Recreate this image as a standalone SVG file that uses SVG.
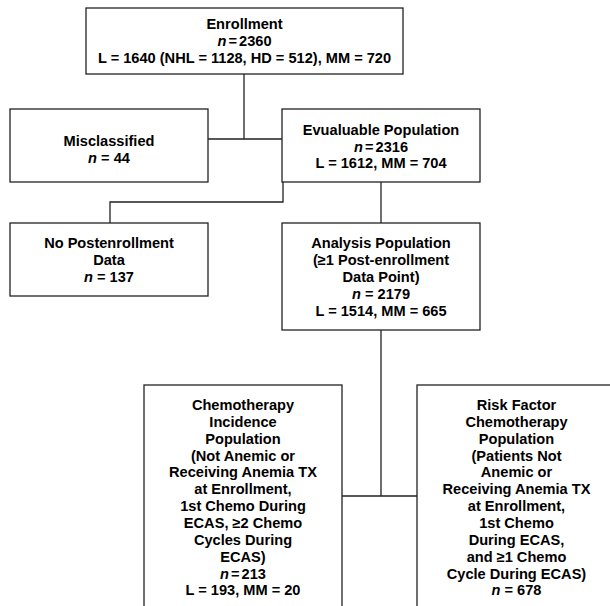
<svg xmlns="http://www.w3.org/2000/svg" width="610" height="606" viewBox="0 0 610 606">
<style>
.box{fill:#fff;stroke:#222;stroke-width:1.3}
.con{fill:none;stroke:#222;stroke-width:1.3}
text{font-family:"Liberation Sans",Arial,Helvetica,sans-serif;font-weight:bold;font-size:14.6px;fill:#000;text-anchor:middle}
.i{font-style:italic}
.t{word-spacing:-2px}
</style>
<rect width="610" height="606" fill="#fff"/>
<g id="connectors">
<path class="con" d="M244,74 V139 M208,139 H282"/>
<path class="con" d="M283,182 V202 H110 V223"/>
<path class="con" d="M381,182 V223"/>
<path class="con" d="M381,330 V496 M342,496 H417"/>
</g>
<g id="enrollment">
<rect class="box" x="86" y="8" width="317" height="66"/>
<text x="244.5" y="29">Enrollment</text>
<text x="244.5" y="46" class="t"><tspan class="i">n</tspan> = 2360</text>
<text x="244.5" y="63">L = 1640 (NHL = 1128, HD = 512), MM = 720</text>
</g>
<g id="misclassified">
<rect class="box" x="10" y="109" width="198" height="73"/>
<text x="109" y="145.5">Misclassified</text>
<text x="109" y="163"><tspan class="i">n</tspan> = 44</text>
</g>
<g id="evaluable">
<rect class="box" x="282" y="109" width="198" height="73"/>
<text x="381" y="134.5">Evualuable Population</text>
<text x="381" y="151.5" class="t"><tspan class="i">n</tspan> = 2316</text>
<text x="381" y="168">L = 1612, MM = 704</text>
</g>
<g id="nopost">
<rect class="box" x="10" y="223" width="198" height="73"/>
<text x="109" y="248">No Postenrollment</text>
<text x="109" y="265">Data</text>
<text x="109" y="282"><tspan class="i">n</tspan> = 137</text>
</g>
<g id="analysis">
<rect class="box" x="282" y="223" width="198" height="107"/>
<text x="381" y="248">Analysis Population</text>
<text x="381" y="265">(≥1 Post-enrollment</text>
<text x="381" y="282">Data Point)</text>
<text x="381" y="299"><tspan class="i">n</tspan> = 2179</text>
<text x="381" y="315.5">L = 1514, MM = 665</text>
</g>
<g id="chemo">
<rect class="box" x="144" y="385" width="198" height="240"/>
<text x="243" y="410">Chemotherapy</text>
<text x="243" y="426.9">Incidence</text>
<text x="243" y="443.7">Population</text>
<text x="243" y="460.6">(Not Anemic or</text>
<text x="243" y="477.4">Receiving Anemia TX</text>
<text x="243" y="494.3">at Enrollment,</text>
<text x="243" y="511.1">1st Chemo During</text>
<text x="243" y="528">ECAS, ≥2 Chemo</text>
<text x="243" y="544.8">Cycles During</text>
<text x="243" y="561.7">ECAS)</text>
<text x="243" y="578.5" class="t"><tspan class="i">n</tspan> = 213</text>
<text x="243" y="595.4">L = 193, MM = 20</text>
</g>
<g id="riskfactor">
<rect class="box" x="417" y="385" width="198" height="240"/>
<text x="516.5" y="410">Risk Factor</text>
<text x="516.5" y="426.9">Chemotherapy</text>
<text x="516.5" y="443.7">Population</text>
<text x="516.5" y="460.6">(Patients Not</text>
<text x="516.5" y="477.4">Anemic or</text>
<text x="516.5" y="494.3">Receiving Anemia TX</text>
<text x="516.5" y="511.1">at Enrollment,</text>
<text x="516.5" y="528">1st Chemo</text>
<text x="516.5" y="544.8">During ECAS,</text>
<text x="516.5" y="561.7">and ≥1 Chemo</text>
<text x="516.5" y="578.5">Cycle During ECAS)</text>
<text x="516.5" y="595.4"><tspan class="i">n</tspan> = 678</text>
</g>
</svg>
